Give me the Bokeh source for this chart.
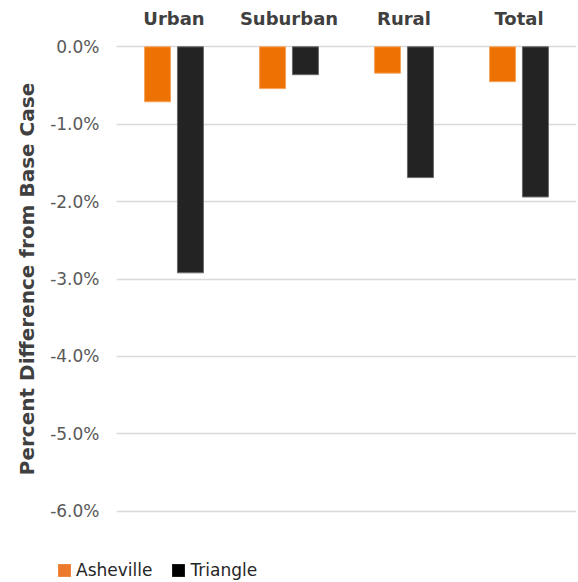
from bokeh.plotting import figure
from bokeh.layouts import column, row
from bokeh.models import FixedTicker, PrintfTickFormatter, Legend, LegendItem, ColumnDataSource
from bokeh.transform import dodge
from bokeh.embed import file_html
from bokeh.resources import INLINE

categories = ["Urban", "Suburban", "Rural", "Total"]
asheville = [-0.71, -0.54, -0.34, -0.45]
triangle = [-2.92, -0.36, -1.69, -1.94]
y_ticks = [-6, -5, -4, -3, -2, -1, 0]
series_names = ["Asheville", "Triangle"]

ORANGE = "#EE7203"
BLACK = "#232323"
FONT = "DejaVu Sans"

src = ColumnDataSource(data=dict(cat=categories, ash=asheville, tri=triangle, zero=[0] * len(categories)))

p = figure(x_range=categories, y_range=(-6.03, 0.03), width=578, height=540,
           output_backend="svg", toolbar_location=None, x_axis_location="above",
           min_border_left=116, min_border_right=2, min_border_top=44, min_border_bottom=27)
p.outline_line_color = None
p.background_fill_color = "white"
p.border_fill_color = "white"

r1 = p.vbar(x=dodge("cat", -0.143, range=p.x_range), top="zero", bottom="ash", width=0.226,
            source=src, fill_color=ORANGE, line_color="#F5A35C", line_width=1)
r2 = p.vbar(x=dodge("cat", 0.143, range=p.x_range), top="zero", bottom="tri", width=0.226,
            source=src, fill_color=BLACK, line_color="#6a6a6a", line_width=1)

p.xgrid.grid_line_color = None
p.ygrid.grid_line_color = "#d9d9d9"
p.ygrid.grid_line_width = 1.5
p.ygrid.ticker = FixedTicker(ticks=y_ticks)

xa = p.xaxis[0]
xa.axis_line_color = None
xa.major_tick_line_color = None
xa.minor_tick_line_color = None
xa.major_label_text_font = FONT
xa.major_label_text_font_style = "bold"
xa.major_label_text_font_size = "18px"
xa.major_label_text_color = "#404040"
xa.major_label_standoff = 10

ya = p.yaxis[0]
ya.ticker = FixedTicker(ticks=y_ticks)
ya.formatter = PrintfTickFormatter(format="%.1f%%")
ya.axis_line_color = None
ya.major_tick_line_color = None
ya.minor_tick_line_color = None
ya.major_label_text_font = FONT
ya.major_label_text_font_size = "17px"
ya.major_label_text_color = "#595959"
ya.major_label_standoff = 11
ya.axis_label = "Percent Difference from Base Case"
ya.axis_label_text_font = FONT
ya.axis_label_text_font_style = "bold"
ya.axis_label_text_font_size = "20px"
ya.axis_label_text_color = "#404040"
ya.axis_label_standoff = 8

# legend strip below the chart (its bars lie outside its visible y range)
pl = figure(width=578, height=42, x_range=categories, y_range=(1, 2),
            output_backend="svg", toolbar_location=None,
            x_axis_location=None, y_axis_location=None, min_border=0)
pl.grid.visible = False
pl.outline_line_color = None
pl.border_fill_color = "white"
pl.background_fill_color = "white"
l1 = pl.vbar(x="cat", top="zero", bottom="ash", width=0.2, source=src,
             fill_color="#ED7A2A", line_color=None)
l2 = pl.vbar(x="cat", top="zero", bottom="tri", width=0.2, source=src,
             fill_color="#000000", line_color=None)
legend = Legend(items=[LegendItem(label=series_names[0], renderers=[l1]),
                       LegendItem(label=series_names[1], renderers=[l2])],
                orientation="horizontal", location=(56, 2),
                label_text_font=FONT, label_text_font_size="17px", label_text_color="#262626",
                glyph_width=16, glyph_height=16, spacing=18, label_standoff=4,
                padding=0, margin=0, border_line_color=None, background_fill_alpha=0)
pl.add_layout(legend, "center")

layout = column(p, row(pl), spacing=0)
open("out.html", "w").write(file_html(layout, INLINE))
